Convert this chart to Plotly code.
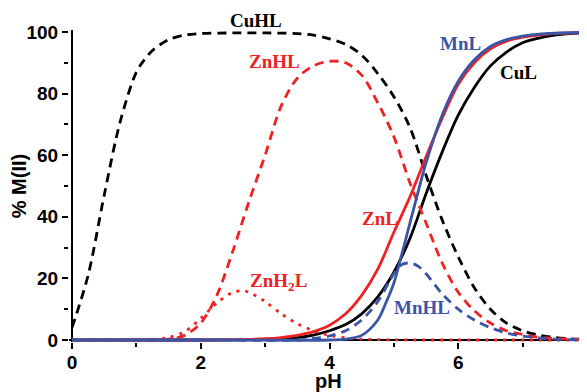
import plotly.graph_objects as go

# ---- data ----
ph_cuhl = [0, 0.25, 0.5, 0.75, 1.0, 1.125, 1.25, 1.5, 1.75, 2.0, 2.5, 3.0, 3.5, 3.75, 4.0, 4.25, 4.5, 4.75,
           5.0, 5.25, 5.5, 5.75, 6.0, 6.25, 6.5, 6.75, 7.0, 7.25, 7.5, 7.75, 8.0]
cuhl = [4, 21, 47, 71, 87, 91, 94, 97.5, 99, 99.5, 99.7, 99.7, 99.5, 99, 97.8, 96, 92.5, 86.5,
        79, 69, 53.5, 39, 27, 17, 10, 5.5, 3, 1.6, 0.8, 0.4, 0.2]

ph_cul = [0, 1.0, 2.0, 2.5, 3.0, 3.5, 3.75, 4.0, 4.25, 4.5, 4.75, 5.0, 5.25, 5.5, 5.75, 6.0,
          6.25, 6.5, 6.75, 7.0, 7.25, 7.5, 7.75, 8.0]
cul = [0, 0, 0, 0.05, 0.2, 0.8, 1.6, 3, 5, 8.5, 14, 22, 33, 47.5, 61, 73,
       82, 89, 93.5, 96.5, 98, 99, 99.5, 99.7]

ph_znhl = [0, 1.0, 1.5, 1.75, 2.0, 2.25, 2.5, 2.75, 3.0, 3.25, 3.5, 3.75, 4.0, 4.25, 4.5, 4.75,
           5.0, 5.25, 5.5, 5.75, 6.0, 6.25, 6.5, 6.75, 7.0, 7.25, 7.5, 8.0]
znhl = [0, 0, 0.3, 1.5, 5.5, 14.5, 29, 45, 60, 76, 85, 89, 90.5, 90, 86, 77,
        66, 51, 38, 25, 15.5, 9.5, 5.5, 3, 1.8, 0.9, 0.5, 0.1]

ph_znh2l = [0, 1.0, 1.25, 1.5, 1.75, 2.0, 2.25, 2.5, 2.65, 2.75, 3.0, 3.25, 3.5, 3.75, 4.0,
            4.25, 4.5, 5.0, 6.0, 8.0]
znh2l = [0, 0, 0.2, 0.8, 2.7, 7, 12, 15.5, 16, 15.5, 12.5, 8.5, 5.3, 3, 1.5,
         0.7, 0.3, 0.05, 0, 0]

ph_znl = [0, 2.0, 2.5, 2.75, 3.0, 3.25, 3.5, 3.75, 4.0, 4.25, 4.5, 4.75, 5.0, 5.25, 5.5, 5.75,
          6.0, 6.25, 6.5, 6.75, 7.0, 7.25, 7.5, 8.0]
znl = [0, 0, 0.05, 0.2, 0.4, 0.8, 1.5, 2.7, 4.8, 8.5, 14.5, 23, 35, 46.5, 59.5, 72,
       83, 90, 94.5, 97, 98.3, 99, 99.5, 99.8]

ph_mnl = [0, 2.0, 4.0, 4.25, 4.5, 4.75, 4.875, 5.0, 5.125, 5.25, 5.375, 5.5, 5.75, 6.0, 6.25,
          6.5, 6.75, 7.0, 7.25, 7.5, 8.0]
mnl = [0, 0, 0, 0.3, 1.5, 6.5, 12, 18.5, 28, 38, 48, 57.5, 73, 84, 91,
       95.3, 97.5, 98.7, 99.3, 99.6, 99.9]

ph_mnhl = [0, 2.0, 3.5, 3.75, 4.0, 4.25, 4.5, 4.75, 5.0, 5.125, 5.25, 5.375, 5.5, 5.75, 6.0,
           6.25, 6.5, 6.75, 7.0, 7.25, 7.5, 8.0]
mnhl = [0, 0, 0, 0.5, 1.3, 3, 6.5, 12.5, 21.5, 24.5, 25, 24, 21.5, 15, 10,
        6.5, 4, 2.3, 1.3, 0.7, 0.3, 0]

x_ticks = [0, 2, 4, 6, 8]
y_ticks = [0, 20, 40, 60, 80, 100]

BLACK = "#000000"
RED = "#ee2124"
BLUE = "#3a55a6"
LW = 2.8
DASH = "9px,6px"
DOT = "3px,6px"

fig = go.Figure()

def add(x, y, color, dash):
    fig.add_trace(go.Scatter(x=x, y=y, mode="lines",
                             line=dict(color=color, width=LW, dash=dash, shape="spline", smoothing=0.9),
                             showlegend=False, hoverinfo="skip"))

add(ph_cuhl, cuhl, BLACK, DASH)
add(ph_cul, cul, BLACK, "solid")
add(ph_znhl, znhl, RED, DASH)
add(ph_znh2l, znh2l, RED, DOT)
add(ph_znl, znl, RED, "solid")
add(ph_mnhl, mnhl, BLUE, DASH)
add(ph_mnl, mnl, BLUE, "solid")

label_font = dict(family="Liberation Serif", size=19, weight="bold")
labels = [
    (3.15, 90.3, "ZnHL", RED),
    (6.04, 96.4, "MnL", BLUE),
    (6.93, 87.0, "CuL", BLACK),
    (4.78, 39.6, "ZnL", RED),
    (3.2, 18.8, "ZnH<sub>2</sub>L", RED),
    (5.44, 10.4, "MnHL", BLUE),
]
for x, y, t, c in labels:
    fig.add_annotation(x=x, y=y, text=t, showarrow=False,
                       font=dict(color=c, **label_font), xanchor="center", yanchor="middle")
# label above the plot area (paper-referenced in y so it is not hidden)
fig.add_annotation(x=2.86, xref="x", y=1.032, yref="paper", text="CuHL", showarrow=False,
                   font=dict(color=BLACK, **label_font), xanchor="center", yanchor="middle")

tick_font = dict(family="Liberation Sans", size=19, weight="bold", color="black")
title_font = dict(family="Liberation Sans", size=20, weight="bold", color="black")

# x-axis title as a paper annotation so it sits where the reference has it
fig.add_annotation(x=0.5, xref="paper", y=-0.125, yref="paper", text="pH", showarrow=False,
                   font=title_font, xanchor="center", yanchor="middle")

# the page body adds an 8px offset, so margins are shifted to compensate
fig.update_layout(
    width=587, height=392,
    margin=dict(l=61, r=8, t=22, b=58, autoexpand=False),
    plot_bgcolor="white", paper_bgcolor="white",
    showlegend=False,
    xaxis=dict(range=[-3 / 64.375, 8], tickvals=x_ticks, ticktext=[str(v) for v in x_ticks],
               ticks="outside", ticklen=6, tickwidth=2, tickcolor="black", automargin=False,
               ticklabelstandoff=-3,
               minor=dict(ticks="outside", ticklen=4, tickwidth=2, tickcolor="black", dtick=1, tick0=0),
               showline=False, showgrid=False, zeroline=True, zerolinecolor="black", zerolinewidth=2,
               tickfont=tick_font),
    yaxis=dict(range=[-0.65, 100.65], tickvals=y_ticks, ticktext=[str(v) for v in y_ticks],
               ticks="outside", ticklen=6, tickwidth=2, tickcolor="black", automargin=False,
               minor=dict(ticks="outside", ticklen=4, tickwidth=2, tickcolor="black", dtick=10, tick0=0),
               showline=False, showgrid=False, zeroline=True, zerolinecolor="black", zerolinewidth=2,
               tickfont=tick_font, title=dict(text="% M(II)", font=title_font, standoff=4)),
)

fig.write_html("out.html")
